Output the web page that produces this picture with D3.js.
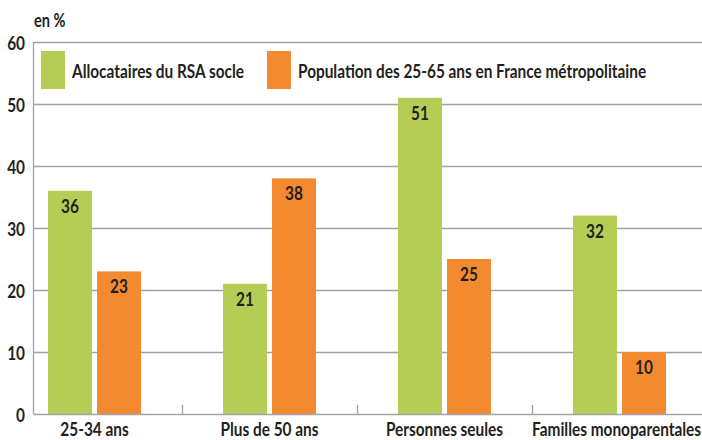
<!DOCTYPE html>
<html>
<head>
<meta charset="utf-8">
<script src="https://cdn.jsdelivr.net/npm/d3@7"></script>
<style>
  html, body { margin: 0; padding: 0; background: #fff; }
  svg { display: block; }
  text { font-family: Lato, "Noto Sans", sans-serif; font-weight: 700; fill: #231f20; }
</style>
</head>
<body>
<svg id="chart" width="702" height="440"></svg>
<script>
const categories = ["25-34 ans", "Plus de 50 ans", "Personnes seules", "Familles monoparentales"];
const seriesNames = ["Allocataires du RSA socle", "Population des 25-65 ans en France métropolitaine"];
const rsaValues = [36, 21, 51, 32];
const popValues = [23, 38, 25, 10];
const yTicks = [0, 10, 20, 30, 40, 50, 60];
const colors = ["#b5cc55", "#f38a2f"];

const svg = d3.select("#chart");
const axisX = 33.5, plotRight = 702, yTop = 42, yBottom = 414;
const FS = 19;

const x = d3.scaleBand().domain(categories).range([7, 707]).paddingInner(0).paddingOuter(0);
const y = d3.scaleLinear().domain([0, 60]).range([yBottom, yTop]);
const barW = 44, gap = 5;
const xs = d3.scaleBand().domain([0, 1]).range([-(barW + gap / 2), barW + gap / 2]).paddingInner(gap / (barW + gap)).paddingOuter(0);

// condense text horizontally around its anchor (the reference face is a condensed sans)
const K = 0.81;
function condense(sel) {
  sel.each(function () {
    const t = d3.select(this);
    const ax = +t.attr("x") || 0;
    t.attr("transform", `translate(${ax},0) scale(${K},1) translate(${-ax},0)`);
  });
}

// gridlines
svg.append("g").selectAll("line").data(yTicks.filter(d => d > 0)).join("line")
  .attr("x1", axisX).attr("x2", plotRight)
  .attr("y1", d => Math.round(y(d)) + 0.5).attr("y2", d => Math.round(y(d)) + 0.5)
  .attr("stroke", "#a3a3a5").attr("stroke-width", 1.3);

// y tick labels
svg.append("g").selectAll("text").data(yTicks).join("text")
  .attr("x", 25).attr("y", d => y(d) + 8)
  .attr("text-anchor", "end").attr("font-size", FS)
  .text(d => d).call(condense);

svg.append("text").attr("x", 34).attr("y", 27.5).attr("font-size", 18).text("en %").call(condense);

// bars
const data = categories.map((c, i) => ({ cat: c, vals: [rsaValues[i], popValues[i]] }));
const groups = svg.append("g").selectAll("g").data(data).join("g")
  .attr("transform", d => `translate(${x(d.cat) + x.bandwidth() / 2},0)`);

groups.selectAll("rect").data(d => d.vals.map((v, k) => ({ v, k }))).join("rect")
  .attr("x", d => xs(d.k)).attr("width", xs.bandwidth())
  .attr("y", d => y(d.v)).attr("height", d => y(0) - y(d.v))
  .attr("fill", d => colors[d.k]);

groups.selectAll("text.val").data(d => d.vals.map((v, k) => ({ v, k }))).join("text")
  .attr("class", "val")
  .attr("x", d => xs(d.k) + xs.bandwidth() / 2).attr("y", d => y(d.v) + 22)
  .attr("text-anchor", "middle").attr("font-size", FS)
  .text(d => d.v).call(condense);

// axes lines
svg.append("line").attr("x1", axisX).attr("x2", axisX).attr("y1", yTop).attr("y2", yBottom)
  .attr("stroke", "#a3a3a5").attr("stroke-width", 1.3);
svg.append("line").attr("x1", axisX).attr("x2", plotRight).attr("y1", yBottom + 0.5).attr("y2", yBottom + 0.5)
  .attr("stroke", "#a3a3a5").attr("stroke-width", 1.3);

// category ticks (band boundaries, inward)
svg.append("g").selectAll("line").data(categories.slice(1)).join("line")
  .attr("x1", d => Math.round(x(d)) + 0.5).attr("x2", d => Math.round(x(d)) + 0.5)
  .attr("y1", yBottom - 9).attr("y2", yBottom)
  .attr("stroke", "#a3a3a5").attr("stroke-width", 1.3);

// category labels
svg.append("g").selectAll("text").data(categories).join("text")
  .attr("x", (d, i) => i === categories.length - 1 ? 701 : x(d) + x.bandwidth() / 2)
  .attr("y", 436)
  .attr("text-anchor", (d, i) => i === categories.length - 1 ? "end" : "middle")
  .attr("font-size", FS)
  .text(d => d).call(condense);

// legend
const legend = svg.append("g");
const legX = [41, 267];
seriesNames.forEach((name, i) => {
  legend.append("rect").attr("x", legX[i]).attr("y", 51).attr("width", 24).attr("height", 38).attr("fill", colors[i]);
  legend.append("text").attr("x", legX[i] + 31).attr("y", 78).attr("font-size", FS).text(name).call(condense);
});
</script>
</body>
</html>
